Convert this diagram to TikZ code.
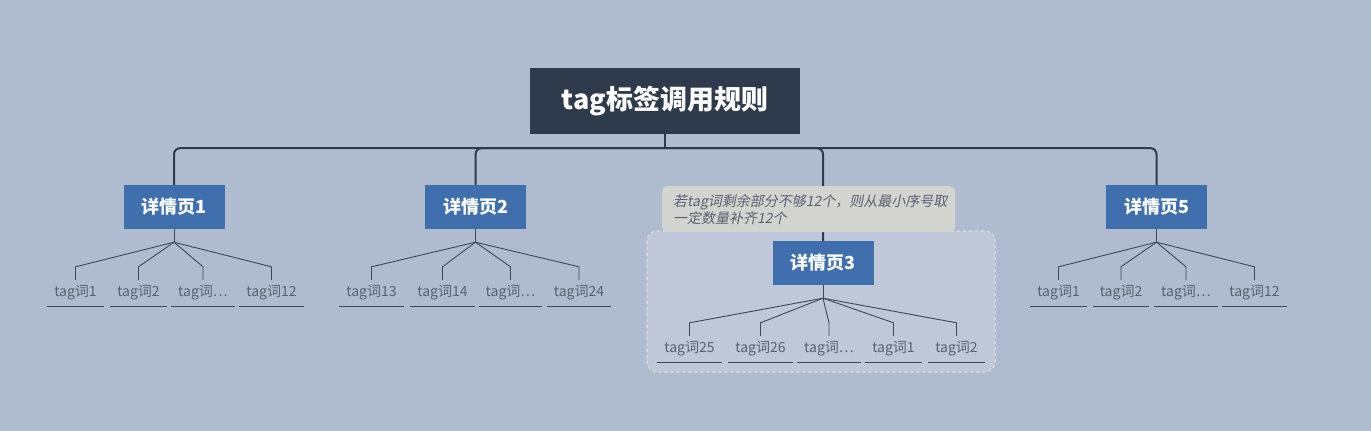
\documentclass[tikz,border=0pt]{standalone}
\usepackage{fontspec}
\setmainfont{Noto Sans CJK SC}[AutoFakeSlant=0.2]
\usetikzlibrary{positioning}
\definecolor{bgc}{HTML}{AFBBCE}
\definecolor{rootc}{HTML}{2E3B4C}
\definecolor{pagec}{HTML}{3F6FAD}
\definecolor{leafc}{HTML}{58626F}
\definecolor{twigc}{HTML}{3E4756}
\definecolor{notec}{HTML}{D3D4CF}
\definecolor{notetext}{HTML}{5A6170}
\definecolor{grpc}{HTML}{BFC8D8}
\definecolor{grpline}{HTML}{D9D9D2}
\pgfdeclarelayer{bg}
\pgfsetlayers{bg,main}
\tikzset{%
    topic/.style={fill=rootc, text=white, inner sep=0pt,
      font=\fontsize{27}{31}\selectfont\bfseries,
      minimum width=270pt, minimum height=66pt},
    page/.style={fill=pagec, text=white, inner sep=0pt,
      font=\fontsize{18}{21}\selectfont\bfseries,
      minimum width=101pt, minimum height=44pt},
    leaf/.style={text=leafc, font=\fontsize{14}{16}\selectfont,
      inner xsep=7pt, inner ysep=0pt, minimum height=26pt},
    trunk/.style={draw=rootc, line width=2pt, rounded corners=6pt},
    twig/.style={draw=twigc, line width=0.9pt},
    uline/.style={draw=twigc, line width=1.2pt},
    tip/.style={fill=notec, text=notetext, rounded corners=5pt,
      font=\fontsize{14}{17}\selectfont\itshape, align=left,
      text width=271pt, inner xsep=11pt, inner ysep=0pt, minimum height=46pt},
    grp/.style={fill=grpc, draw=grpline, dashed, line width=1.5pt, rounded corners=10pt}
}

\begin{document}
\begin{tikzpicture}[x=1pt,y=-1pt]
      \begin{pgfonlayer}{bg}
        \fill[bgc] (0,0) rectangle (1371,431);
        \draw[grp] (647,231) rectangle (995,372);
      \end{pgfonlayer}
      \useasboundingbox (0,0) rectangle (1371,431);

      \node[topic] (root) at (665,101) {tag标签调用规则};
      \node[page] (p1) at (174,207) {详情页1};
      \node[page] (p2) at (475.5,207) {详情页2};
      \node[page] (p3) at (823,263) {详情页3};
      \node[page] (p5) at (1156.5,207) {详情页5};

      % main branches
      \coordinate (bus) at ([yshift=-14pt]root.south);
      \draw[trunk] (root.south) -- (bus);
      \foreach \p in {p1,p2,p3,p5}
        \draw[trunk] (bus) -| (\p.north);

      \foreach \p in {p1,p2,p3,p5} {
        \coordinate (f\p) at ([yshift=-13pt]\p.south);
        \draw[twig] (\p.south) -- (f\p);
      }

      % tag words
      \foreach \x/\t [count=\i] in {75.5/tag词1, 138.5/tag词2, 203/tag词\dots, 271.5/tag词12} {
        \node[leaf] (a\i) at (\x,293) {\t};
        \draw[twig] (fp1) -- ([yshift=13pt]a\i.north) -- (a\i.north);
        \draw[uline] (a\i.south west) -- (a\i.south east);
      }
      \foreach \x/\t [count=\i] in {371.5/tag词13, 442.5/tag词14, 510.5/tag词\dots, 579/tag词24} {
        \node[leaf] (b\i) at (\x,293) {\t};
        \draw[twig] (fp2) -- ([yshift=13pt]b\i.north) -- (b\i.north);
        \draw[uline] (b\i.south west) -- (b\i.south east);
      }
      \foreach \x/\t [count=\i] in {689.5/tag词25, 760.5/tag词26, 829/tag词\dots, 893.5/tag词1, 956.5/tag词2} {
        \node[leaf] (c\i) at (\x,349) {\t};
        \draw[twig] (fp3) -- ([yshift=13pt]c\i.north) -- (c\i.north);
        \draw[uline] (c\i.south west) -- (c\i.south east);
      }
      \foreach \x/\t [count=\i] in {1058.5/tag词1, 1121/tag词2, 1186/tag词\dots, 1254.5/tag词12} {
        \node[leaf] (d\i) at (\x,293) {\t};
        \draw[twig] (fp5) -- ([yshift=13pt]d\i.north) -- (d\i.north);
        \draw[uline] (d\i.south west) -- (d\i.south east);
      }

      \node[tip, anchor=north west] (note) at (662,186)
        {若tag词剩余部分不够12个，则从最小序号取\\一定数量补齐12个};
\end{tikzpicture}
\end{document}
